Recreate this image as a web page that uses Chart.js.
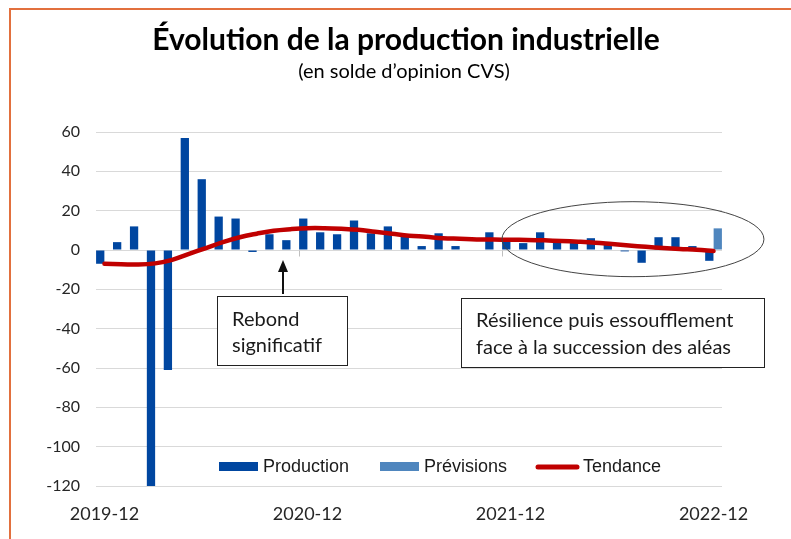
<!DOCTYPE html>
<html lang="fr">
<head>
<meta charset="utf-8">
<script src="https://cdn.jsdelivr.net/npm/chart.js@4.4.1/dist/chart.umd.min.js"></script>
<style>
  html, body { margin: 0; padding: 0; background: #fff; }
  #myChart { display: block; }
</style>
</head>
<body>
<canvas id="myChart" width="791" height="539"></canvas>
<script>
const months = [
  "2019-12", "2020-01", "2020-02", "2020-03", "2020-04", "2020-05", "2020-06",
  "2020-07", "2020-08", "2020-09", "2020-10", "2020-11", "2020-12",
  "2021-01", "2021-02", "2021-03", "2021-04", "2021-05", "2021-06",
  "2021-07", "2021-08", "2021-09", "2021-10", "2021-11", "2021-12",
  "2022-01", "2022-02", "2022-03", "2022-04", "2022-05", "2022-06",
  "2022-07", "2022-08", "2022-09", "2022-10", "2022-11", "2022-12"
];
const production = [
  -7, 4, 12, -125, -61, 57, 36,
  17, 16, -1, 8, 5, 16,
  9, 8, 15, 8.5, 12, 7,
  2, 8.5, 2, 0, 9, 6,
  3.5, 9, 4, 4, 6, 3,
  -0.7, -6.5, 6.5, 6.5, 2, -5.5
];
const previsions = [
  null, null, null, null, null, null, null,
  null, null, null, null, null, null,
  null, null, null, null, null, null,
  null, null, null, null, null, null,
  null, null, null, null, null, null,
  null, null, null, null, null, 11
];
const tendance = [
  -7.0, -7.2, -7.4, -6.8, -5.0, -2.0, 1.0,
  4.0, 6.5, 8.3, 9.8, 10.6, 11.1,
  11.1, 10.8, 10.3, 9.3, 8.3, 7.3,
  6.7, 6.0, 5.7, 5.4, 5.3, 5.2,
  5.1, 4.9, 4.6, 4.2, 3.7, 3.0,
  2.3, 1.6, 1.0, 0.5, 0.1, -0.5
];
const xTickLabels = ["2019-12", "2020-12", "2021-12", "2022-12"];
const yMin = -120;
const yMax = 60;
const yStep = 20;

const titleText = "Évolution de la production industrielle";
const subtitleText = "(en solde d’opinion CVS)";
const note1 = ["Rebond", "significatif"];
const note2 = ["Résilience puis essoufflement", "face à la succession des aléas"];

const textFont = "Lato, 'Liberation Sans', sans-serif";
const legendFont = "'Liberation Sans', Arial, sans-serif";

function noteBox(ctx, x, y, w, h, lines, baselines) {
  ctx.fillStyle = "#fff";
  ctx.fillRect(x, y, w, h);
  ctx.strokeStyle = "#222";
  ctx.lineWidth = 1;
  ctx.strokeRect(x + 0.5, y + 0.5, w, h);
  ctx.fillStyle = "#1a1a1a";
  ctx.font = "20px " + textFont;
  ctx.textAlign = "left";
  ctx.textBaseline = "alphabetic";
  lines.forEach((line, i) => ctx.fillText(line, x + 15, baselines[i]));
}

const decorPlugin = {
  id: "decor",
  beforeDraw(chart) {
    const ctx = chart.ctx;
    ctx.save();
    ctx.fillStyle = "#fff";
    ctx.fillRect(0, 0, chart.width, chart.height);
    // orange frame, top and left
    ctx.strokeStyle = "#E2703E";
    ctx.lineWidth = 2;
    ctx.beginPath();
    ctx.moveTo(10, chart.height);
    ctx.lineTo(10, 9);
    ctx.lineTo(chart.width, 9);
    ctx.stroke();
    ctx.restore();
  },
  beforeDatasetsDraw(chart) {
    // small tick marks on the zero line between years
    const ctx = chart.ctx;
    const x = chart.scales.x;
    const y0 = Math.round(chart.scales.y.getPixelForValue(0)) + 0.5;
    ctx.save();
    ctx.strokeStyle = "#bfbfbf";
    ctx.lineWidth = 1;
    [12, 24].forEach(i => {
      const px = Math.round((x.getPixelForValue(i - 1) + x.getPixelForValue(i)) / 2) + 0.5;
      ctx.beginPath();
      ctx.moveTo(px, y0);
      ctx.lineTo(px, y0 + 6);
      ctx.stroke();
    });
    ctx.restore();
  },
  afterDraw(chart) {
    const ctx = chart.ctx;
    const xs = chart.scales.x;
    const ys = chart.scales.y;
    ctx.save();

    // title and subtitle
    ctx.fillStyle = "#000";
    ctx.textAlign = "center";
    ctx.textBaseline = "middle";
    ctx.font = "bold 30px " + textFont;
    ctx.fillText(titleText, 406, 40);
    ctx.font = "20px " + textFont;
    ctx.fillText(subtitleText, 404, 72);

    // ellipse round the last months
    const cx = xs.getPixelForValue(31) + 4;
    const cy = ys.getPixelForValue(5.5);
    ctx.strokeStyle = "#444";
    ctx.lineWidth = 1;
    ctx.beginPath();
    ctx.ellipse(cx, cy, 131, 37.5, 0, 0, Math.PI * 2);
    ctx.stroke();

    // arrow pointing at the rebound
    const ax = 283;
    ctx.strokeStyle = "#111";
    ctx.fillStyle = "#111";
    ctx.lineWidth = 2;
    ctx.beginPath();
    ctx.moveTo(ax, 294);
    ctx.lineTo(ax, 270);
    ctx.stroke();
    ctx.beginPath();
    ctx.moveTo(ax, 260);
    ctx.lineTo(ax - 5, 272);
    ctx.lineTo(ax + 5, 272);
    ctx.closePath();
    ctx.fill();

    noteBox(ctx, 217, 296, 130, 69, note1, [326, 352]);
    noteBox(ctx, 461, 298, 303, 69, note2, [327, 354]);

    // legend
    const items = [
      { ds: chart.data.datasets[1], x: 219, kind: "bar" },
      { ds: chart.data.datasets[2], x: 380, kind: "bar" },
      { ds: chart.data.datasets[0], x: 535, kind: "line" }
    ];
    const ly = 467;
    ctx.font = "18px " + legendFont;
    ctx.textAlign = "left";
    ctx.textBaseline = "middle";
    items.forEach(it => {
      if (it.kind === "bar") {
        ctx.fillStyle = it.ds.backgroundColor;
        ctx.fillRect(it.x, ly - 5, 39, 9);
        ctx.fillStyle = "#1a1a1a";
        ctx.fillText(it.ds.label, it.x + 44, ly);
      } else {
        ctx.strokeStyle = it.ds.borderColor;
        ctx.lineWidth = 5;
        ctx.lineCap = "round";
        ctx.beginPath();
        ctx.moveTo(it.x + 3, ly);
        ctx.lineTo(it.x + 42, ly);
        ctx.stroke();
        ctx.fillStyle = "#1a1a1a";
        ctx.fillText(it.ds.label, it.x + 48, ly);
      }
    });
    ctx.restore();
  }
};

const chartData = {
  labels: months,
  datasets: [
    {
      type: "line",
      label: "Tendance",
      data: tendance,
      borderColor: "#C00000",
      backgroundColor: "#C00000",
      borderWidth: 4.5,
      borderCapStyle: "round",
      pointRadius: 0,
      tension: 0.4,
      order: 0
    },
    {
      type: "bar",
      label: "Production",
      data: production,
      backgroundColor: "#0046A0",
      categoryPercentage: 1,
      barPercentage: 0.98,
      order: 1
    },
    {
      type: "bar",
      label: "Prévisions",
      data: previsions,
      backgroundColor: "#4F86BE",
      categoryPercentage: 1,
      barPercentage: 0.98,
      order: 1
    }
  ]
};

const config = {
  type: "bar",
  data: chartData,
  options: {
    responsive: false,
    animation: false,
    layout: { padding: { top: 132, right: 69, bottom: 0, left: 0 } },
    plugins: {
      legend: { display: false },
      title: { display: false },
      tooltip: { enabled: false }
    },
    scales: {
      x: {
        grid: { display: false, drawTicks: false },
        border: { display: false },
        afterFit(scale) { scale.height = 53; },
        ticks: {
          autoSkip: false,
          maxRotation: 0,
          padding: 17,
          color: "#262626",
          font: { family: textFont, size: 18 },
          callback(value) {
            const label = this.getLabelForValue(value);
            return xTickLabels.includes(label) ? label : "";
          }
        }
      },
      y: {
        min: yMin,
        max: yMax,
        grid: { color: "#d9d9d9", drawTicks: false },
        border: { display: false },
        afterFit(scale) { scale.width = 96; },
        ticks: {
          stepSize: yStep,
          padding: 16,
          color: "#262626",
          font: { family: textFont, size: 16 }
        }
      }
    }
  },
  plugins: [decorPlugin]
};

const myChart = new Chart(document.getElementById("myChart"), config);
</script>
</body>
</html>
